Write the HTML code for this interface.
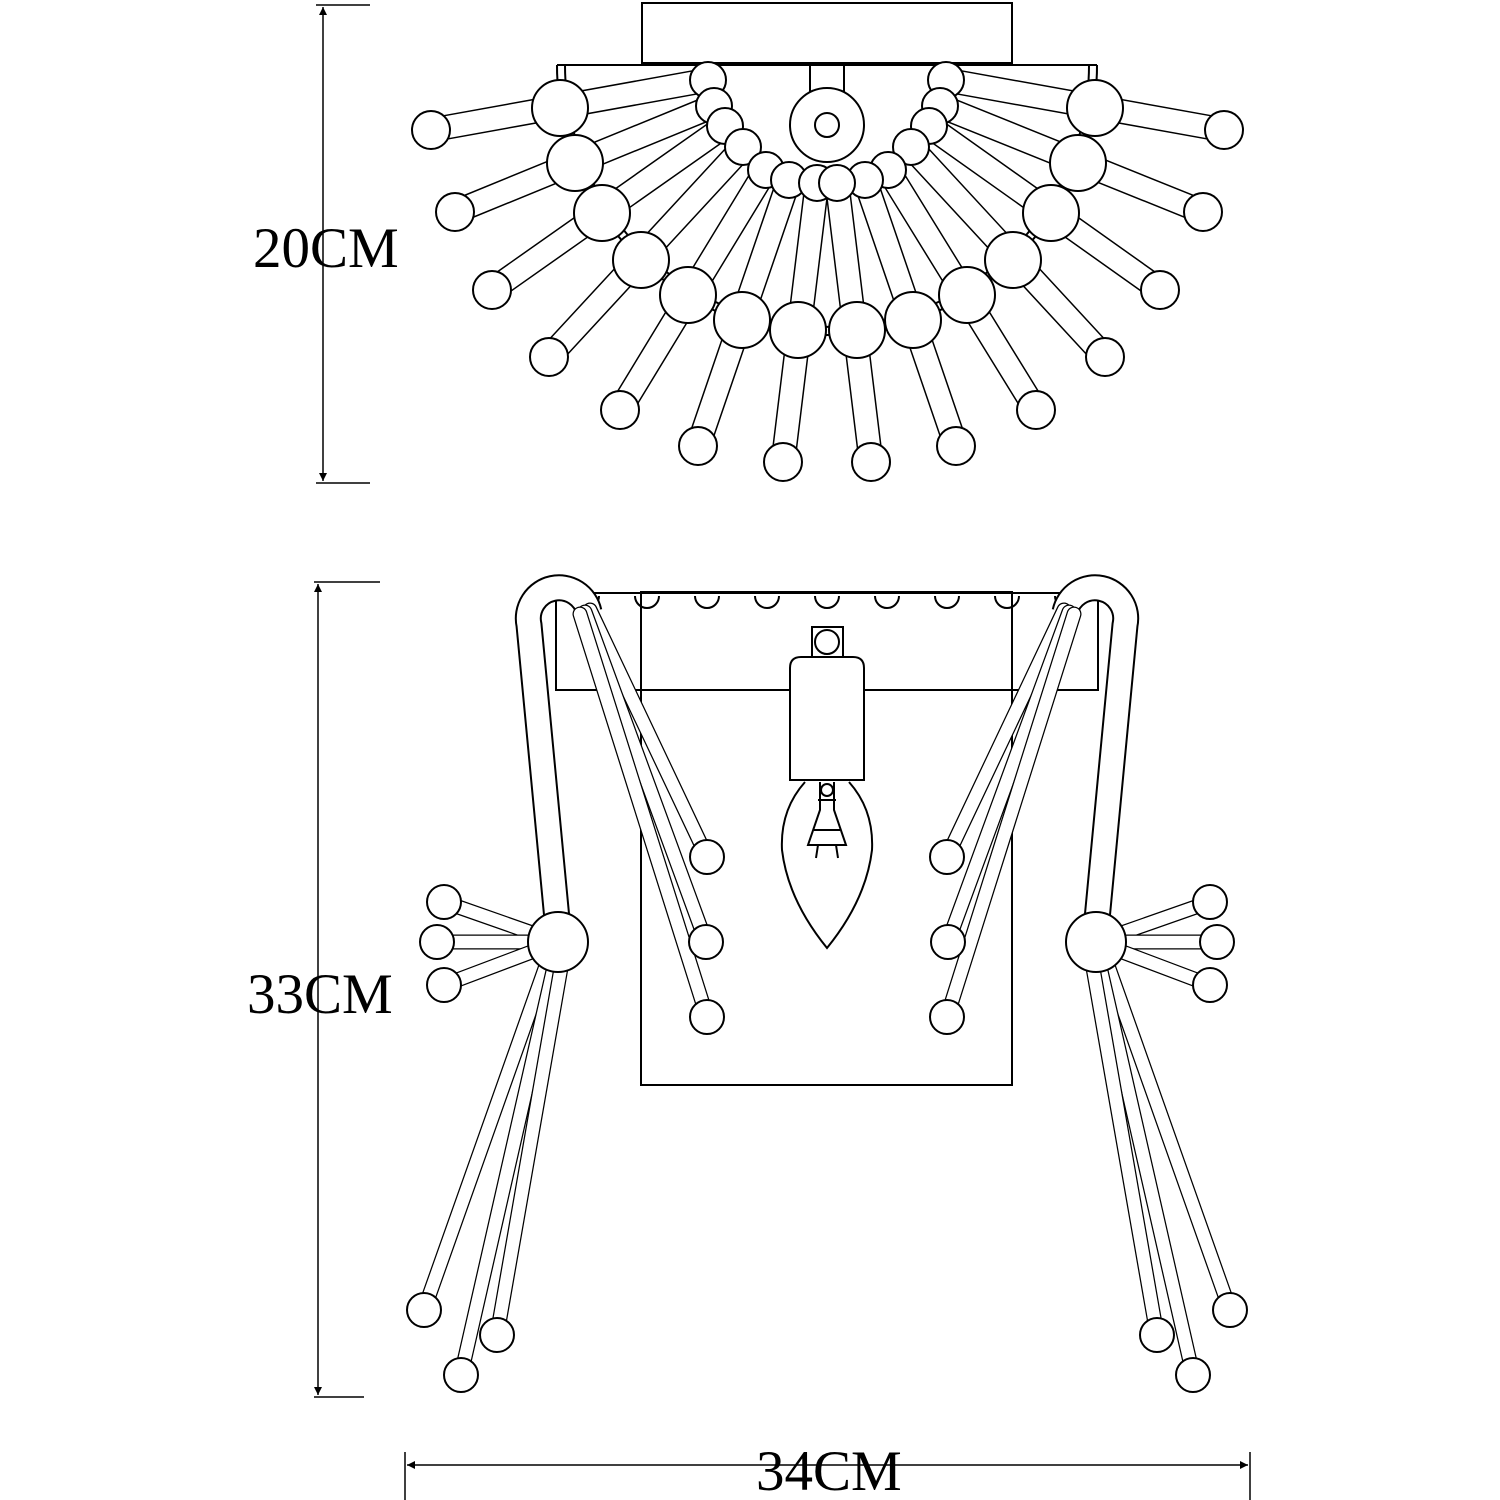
<!DOCTYPE html>
<html><head><meta charset="utf-8"><style>
html,body{margin:0;padding:0;background:#fff}
svg{display:block}
.o{stroke:#000;stroke-width:25;stroke-linecap:round;fill:none}
.i{stroke:#fff;stroke-width:22;stroke-linecap:round;fill:none}
.o2{stroke:#000;stroke-width:15;stroke-linecap:round;fill:none}
.i2{stroke:#fff;stroke-width:12.5;stroke-linecap:round;fill:none}
circle{fill:#fff;stroke:#000;stroke-width:2}
.l{stroke:#000;stroke-width:2;fill:none}
text{font-family:"Liberation Serif",serif;font-size:57px;fill:#000}
</style></head><body>
<svg width="1500" height="1500" viewBox="0 0 1500 1500" xmlns="http://www.w3.org/2000/svg">
<defs>
<marker id="a" viewBox="0 0 10 10" refX="10" refY="5" markerWidth="8" markerHeight="14" orient="auto-start-reverse" markerUnits="userSpaceOnUse"><path d="M0,0 L10,5 L0,10 z" fill="#000"/></marker>
</defs>
<line class="l" x1="323" y1="7" x2="323" y2="481" marker-start="url(#a)" marker-end="url(#a)" style="stroke-width:1.5"/>
<line class="l" x1="316" y1="5" x2="370" y2="5" style="stroke-width:1.5"/>
<line class="l" x1="316" y1="483" x2="370" y2="483" style="stroke-width:1.5"/>
<text x="253" y="267">20CM</text>
<line class="l" x1="318" y1="584" x2="318" y2="1395" marker-start="url(#a)" marker-end="url(#a)" style="stroke-width:1.5"/>
<line class="l" x1="314" y1="582" x2="380" y2="582" style="stroke-width:1.5"/>
<line class="l" x1="314" y1="1397" x2="364" y2="1397" style="stroke-width:1.5"/>
<text x="247" y="1013">33CM</text>
<line class="l" x1="407" y1="1465" x2="1248" y2="1465" marker-start="url(#a)" marker-end="url(#a)" style="stroke-width:1.5"/>
<line class="l" x1="405" y1="1452" x2="405" y2="1500" style="stroke-width:1.5"/>
<line class="l" x1="1250" y1="1452" x2="1250" y2="1500" style="stroke-width:1.5"/>
<text x="756" y="1490">34CM</text>

<rect class="l" x="642" y="3" width="370" height="60"/>
<line class="l" x1="557" y1="65" x2="1097" y2="65"/>
<path class="l" d="M557,65 A270,270 0 0 0 1097,65"/>
<path class="l" d="M565,65 A262,262 0 0 0 1089,65"/>
<path class="l" d="M810,65 L810,140 A17,17 0 0 0 844,140 L844,65"/>
<circle cx="827" cy="125" r="37"/>
<circle cx="827" cy="125" r="12"/>
<g>
<line class="o" x1="708" y1="80" x2="431" y2="130"/><line class="i" x1="708" y1="80" x2="431" y2="130"/>
<line class="o" x1="714" y1="106" x2="455" y2="212"/><line class="i" x1="714" y1="106" x2="455" y2="212"/>
<line class="o" x1="725" y1="126" x2="492" y2="290"/><line class="i" x1="725" y1="126" x2="492" y2="290"/>
<line class="o" x1="743" y1="147" x2="549" y2="357"/><line class="i" x1="743" y1="147" x2="549" y2="357"/>
<line class="o" x1="766" y1="170" x2="620" y2="410"/><line class="i" x1="766" y1="170" x2="620" y2="410"/>
<line class="o" x1="789" y1="180" x2="698" y2="446"/><line class="i" x1="789" y1="180" x2="698" y2="446"/>
<line class="o" x1="817" y1="183" x2="783" y2="462"/><line class="i" x1="817" y1="183" x2="783" y2="462"/>
<line class="o" x1="946" y1="80" x2="1224" y2="130"/><line class="i" x1="946" y1="80" x2="1224" y2="130"/>
<line class="o" x1="940" y1="106" x2="1203" y2="212"/><line class="i" x1="940" y1="106" x2="1203" y2="212"/>
<line class="o" x1="929" y1="126" x2="1160" y2="290"/><line class="i" x1="929" y1="126" x2="1160" y2="290"/>
<line class="o" x1="911" y1="147" x2="1105" y2="357"/><line class="i" x1="911" y1="147" x2="1105" y2="357"/>
<line class="o" x1="888" y1="170" x2="1036" y2="410"/><line class="i" x1="888" y1="170" x2="1036" y2="410"/>
<line class="o" x1="865" y1="180" x2="956" y2="446"/><line class="i" x1="865" y1="180" x2="956" y2="446"/>
<line class="o" x1="837" y1="183" x2="871" y2="462"/><line class="i" x1="837" y1="183" x2="871" y2="462"/>
</g>
<path class="l" d="M557,65 A270,270 0 0 0 1097,65" style="stroke-width:1.5"/>
<g>
<circle cx="708" cy="80" r="18"/><circle cx="714" cy="106" r="18"/><circle cx="725" cy="126" r="18"/><circle cx="743" cy="147" r="18"/><circle cx="766" cy="170" r="18"/><circle cx="789" cy="180" r="18"/><circle cx="817" cy="183" r="18"/>
<circle cx="946" cy="80" r="18"/><circle cx="940" cy="106" r="18"/><circle cx="929" cy="126" r="18"/><circle cx="911" cy="147" r="18"/><circle cx="888" cy="170" r="18"/><circle cx="865" cy="180" r="18"/><circle cx="837" cy="183" r="18"/>
<circle cx="431" cy="130" r="19"/><circle cx="455" cy="212" r="19"/><circle cx="492" cy="290" r="19"/><circle cx="549" cy="357" r="19"/><circle cx="620" cy="410" r="19"/><circle cx="698" cy="446" r="19"/><circle cx="783" cy="462" r="19"/>
<circle cx="1224" cy="130" r="19"/><circle cx="1203" cy="212" r="19"/><circle cx="1160" cy="290" r="19"/><circle cx="1105" cy="357" r="19"/><circle cx="1036" cy="410" r="19"/><circle cx="956" cy="446" r="19"/><circle cx="871" cy="462" r="19"/>
<circle cx="560" cy="108" r="28"/><circle cx="575" cy="163" r="28"/><circle cx="602" cy="213" r="28"/><circle cx="641" cy="260" r="28"/><circle cx="688" cy="295" r="28"/><circle cx="742" cy="320" r="28"/><circle cx="798" cy="330" r="28"/>
<circle cx="1095" cy="108" r="28"/><circle cx="1078" cy="163" r="28"/><circle cx="1051" cy="213" r="28"/><circle cx="1013" cy="260" r="28"/><circle cx="967" cy="295" r="28"/><circle cx="913" cy="320" r="28"/><circle cx="857" cy="330" r="28"/>
</g>

<rect class="l" x="641" y="592" width="371" height="493"/>
<rect class="l" x="556" y="593" width="542" height="97"/>
<g class="l">
<path d="M575,596 A12,12 0 0 0 599,596"/><path d="M635,596 A12,12 0 0 0 659,596"/><path d="M695,596 A12,12 0 0 0 719,596"/><path d="M755,596 A12,12 0 0 0 779,596"/><path d="M815,596 A12,12 0 0 0 839,596"/><path d="M875,596 A12,12 0 0 0 899,596"/><path d="M935,596 A12,12 0 0 0 959,596"/><path d="M995,596 A12,12 0 0 0 1019,596"/><path d="M1055,596 A12,12 0 0 0 1079,596"/>
</g>
<path d="M558,930 L529,625 A30,30 0 0 1 589,612" style="stroke:#000;stroke-width:27;fill:none"/>
<path d="M558,930 L529,625 A30,30 0 0 1 589,612" style="stroke:#fff;stroke-width:23;fill:none"/>
<path d="M1096,930 L1125,625 A30,30 0 0 0 1065,612" style="stroke:#000;stroke-width:27;fill:none"/>
<path d="M1096,930 L1125,625 A30,30 0 0 0 1065,612" style="stroke:#fff;stroke-width:23;fill:none"/>
<g>
<line class="o2" x1="590" y1="610" x2="707" y2="857"/><line class="i2" x1="590" y1="610" x2="707" y2="857"/>
<line class="o2" x1="585" y1="612" x2="706" y2="942"/><line class="i2" x1="585" y1="612" x2="706" y2="942"/>
<line class="o2" x1="580" y1="614" x2="707" y2="1017"/><line class="i2" x1="580" y1="614" x2="707" y2="1017"/>
<line class="o2" x1="1064" y1="610" x2="947" y2="857"/><line class="i2" x1="1064" y1="610" x2="947" y2="857"/>
<line class="o2" x1="1069" y1="612" x2="948" y2="942"/><line class="i2" x1="1069" y1="612" x2="948" y2="942"/>
<line class="o2" x1="1074" y1="614" x2="947" y2="1017"/><line class="i2" x1="1074" y1="614" x2="947" y2="1017"/>
<line class="o2" x1="558" y1="942" x2="444" y2="902"/><line class="i2" x1="558" y1="942" x2="444" y2="902"/>
<line class="o2" x1="558" y1="942" x2="437" y2="942"/><line class="i2" x1="558" y1="942" x2="437" y2="942"/>
<line class="o2" x1="558" y1="942" x2="444" y2="985"/><line class="i2" x1="558" y1="942" x2="444" y2="985"/>
<line class="o2" x1="1096" y1="942" x2="1210" y2="902"/><line class="i2" x1="1096" y1="942" x2="1210" y2="902"/>
<line class="o2" x1="1096" y1="942" x2="1217" y2="942"/><line class="i2" x1="1096" y1="942" x2="1217" y2="942"/>
<line class="o2" x1="1096" y1="942" x2="1210" y2="985"/><line class="i2" x1="1096" y1="942" x2="1210" y2="985"/>
<line class="o2" x1="548" y1="960" x2="424" y2="1310"/><line class="i2" x1="548" y1="960" x2="424" y2="1310"/>
<line class="o2" x1="555" y1="962" x2="461" y2="1375"/><line class="i2" x1="555" y1="962" x2="461" y2="1375"/>
<line class="o2" x1="562" y1="962" x2="497" y2="1335"/><line class="i2" x1="562" y1="962" x2="497" y2="1335"/>
<line class="o2" x1="1106" y1="960" x2="1230" y2="1310"/><line class="i2" x1="1106" y1="960" x2="1230" y2="1310"/>
<line class="o2" x1="1099" y1="962" x2="1193" y2="1375"/><line class="i2" x1="1099" y1="962" x2="1193" y2="1375"/>
<line class="o2" x1="1092" y1="962" x2="1157" y2="1335"/><line class="i2" x1="1092" y1="962" x2="1157" y2="1335"/>
</g>
<g>
<circle cx="707" cy="857" r="17"/><circle cx="706" cy="942" r="17"/><circle cx="707" cy="1017" r="17"/>
<circle cx="947" cy="857" r="17"/><circle cx="948" cy="942" r="17"/><circle cx="947" cy="1017" r="17"/>
<circle cx="444" cy="902" r="17"/><circle cx="437" cy="942" r="17"/><circle cx="444" cy="985" r="17"/>
<circle cx="1210" cy="902" r="17"/><circle cx="1217" cy="942" r="17"/><circle cx="1210" cy="985" r="17"/>
<circle cx="424" cy="1310" r="17"/><circle cx="461" cy="1375" r="17"/><circle cx="497" cy="1335" r="17"/>
<circle cx="1230" cy="1310" r="17"/><circle cx="1193" cy="1375" r="17"/><circle cx="1157" cy="1335" r="17"/>
<circle cx="558" cy="942" r="30"/><circle cx="1096" cy="942" r="30"/>
</g>
<rect class="l" x="812" y="627" width="31" height="30" style="fill:#fff"/>
<circle cx="827" cy="642" r="12"/>
<path class="l" d="M790,780 L790,668 Q790,657 801,657 L853,657 Q864,657 864,668 L864,780 Z" style="fill:#fff"/>
<path class="l" d="M805,782 Q780,810 782,850 Q788,900 827,948 Q866,900 872,850 Q874,810 849,782"/>
<path class="l" d="M820,782 L820,810 L808,845 L846,845 L834,810 L834,782 M818,800 L836,800 M814,830 L840,830 M818,845 L816,858 M836,845 L838,858"/>
<circle cx="827" cy="790" r="6"/>
</svg>
</body></html>
